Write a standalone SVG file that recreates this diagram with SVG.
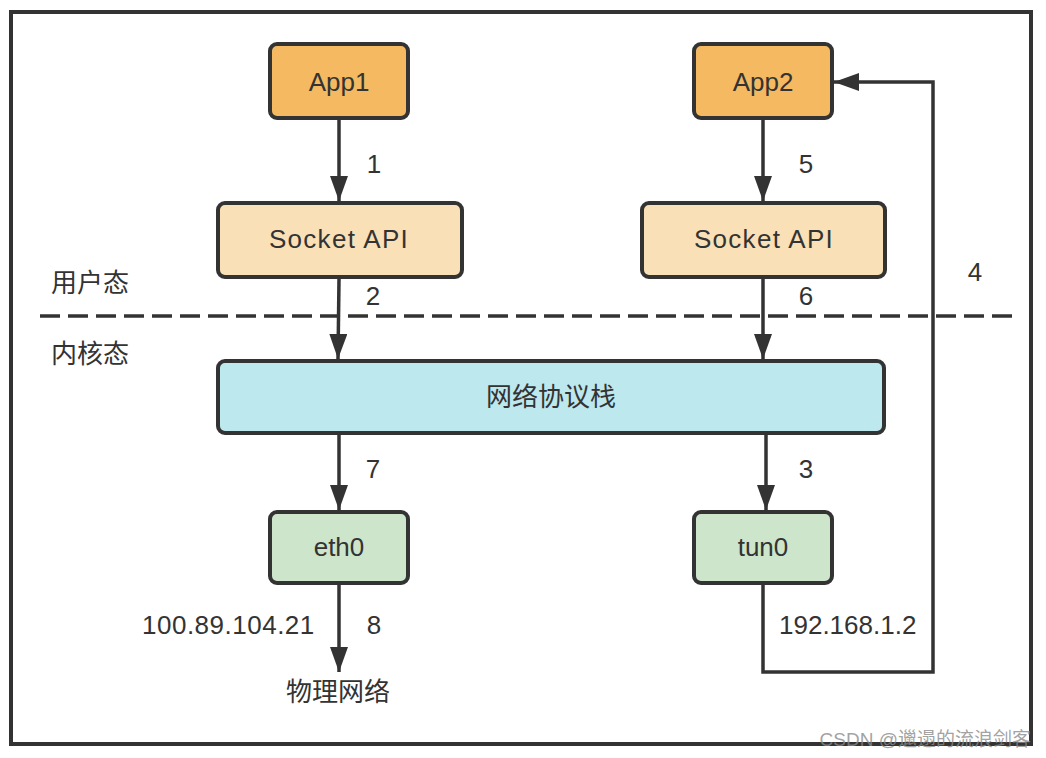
<svg xmlns="http://www.w3.org/2000/svg" width="1046" height="758" viewBox="0 0 1046 758">
  <style>
    .node { stroke: #333333; stroke-width: 4; }
    .app { fill: #F4B961; }
    .sock { fill: #FAE0B7; }
    .stack { fill: #BDE8EE; }
    .nic { fill: #CDE5CB; }
    .t { font-family: "Liberation Sans", "Noto Sans CJK SC", sans-serif; font-size: 26px; fill: #333333; }
    .c { text-anchor: middle; }
    .wide { letter-spacing: 1.3px; }
    .edge { fill: none; stroke: #333333; stroke-width: 3.5; }
  </style>
  <defs>
    <marker id="ah" markerUnits="userSpaceOnUse" markerWidth="26" markerHeight="20" refX="25" refY="9" orient="auto">
      <path d="M0,0 L25,9 L0,18 Z" fill="#333333"/>
    </marker>
  </defs>
  <rect width="1046" height="758" fill="#ffffff"/>
  <rect id="frame" x="11" y="12" width="1020" height="732" fill="none" stroke="#333333" stroke-width="4"/>

  <g id="divider">
    <line x1="40" y1="316" x2="1012" y2="316" stroke="#333333" stroke-width="3.5" stroke-dasharray="20 8"/>
    <text class="t" x="51" y="292">用户态</text>
    <text class="t" x="51" y="363">内核态</text>
  </g>

  <g id="app1"><rect class="node app" x="270" y="44" width="138" height="74" rx="7"/><text class="t c" x="339" y="91">App1</text></g>
  <g id="app2"><rect class="node app" x="694" y="44" width="138" height="74" rx="7"/><text class="t c" x="763" y="91">App2</text></g>
  <g id="socket1"><rect class="node sock" x="218" y="203" width="244" height="74" rx="7"/><text class="t c wide" x="339" y="248">Socket API</text></g>
  <g id="socket2"><rect class="node sock" x="642" y="203" width="243" height="74" rx="7"/><text class="t c wide" x="764" y="248">Socket API</text></g>
  <g id="stack"><rect class="node stack" x="218" y="361" width="666" height="72" rx="7"/><text class="t c" x="551" y="406">网络协议栈</text></g>
  <g id="eth0"><rect class="node nic" x="270" y="512" width="138" height="71" rx="7"/><text class="t c" x="339" y="556">eth0</text></g>
  <g id="tun0"><rect class="node nic" x="694" y="512" width="138" height="71" rx="7"/><text class="t c" x="763" y="556">tun0</text></g>
  <g id="physnet"><text class="t c" x="338" y="701">物理网络</text></g>

  <g id="connectors">
    <line class="edge" x1="339" y1="120" x2="339" y2="201" marker-end="url(#ah)"/>
    <line class="edge" x1="339" y1="279" x2="338" y2="359" marker-end="url(#ah)"/>
    <line class="edge" x1="763" y1="120" x2="763" y2="201" marker-end="url(#ah)"/>
    <line class="edge" x1="763" y1="279" x2="763" y2="359" marker-end="url(#ah)"/>
    <line class="edge" x1="339" y1="435" x2="339" y2="510" marker-end="url(#ah)"/>
    <line class="edge" x1="766" y1="435" x2="766" y2="510" marker-end="url(#ah)"/>
    <line class="edge" x1="339" y1="585" x2="339" y2="672" marker-end="url(#ah)"/>
    <path class="edge" d="M763,585 V672 H933 V82 H834" marker-end="url(#ah)"/>
  </g>

  <g id="labels">
    <text class="t c" x="374" y="173">1</text>
    <text class="t c" x="373" y="305">2</text>
    <text class="t c" x="806" y="478">3</text>
    <text class="t c" x="975" y="281">4</text>
    <text class="t c" x="806" y="173">5</text>
    <text class="t c" x="806" y="305">6</text>
    <text class="t c" x="373" y="478">7</text>
    <text class="t c" x="374" y="634">8</text>
    <text class="t" x="142" y="634" letter-spacing="0.5">100.89.104.21</text>
    <text class="t" x="779" y="634">192.168.1.2</text>
  </g>

  <text id="watermark" x="1031" y="746" text-anchor="end" font-family="Liberation Sans, Noto Sans CJK SC, sans-serif" font-size="19" fill="#8a8a8a" fill-opacity="0.8">CSDN @邋遢的流浪剑客</text>
</svg>
